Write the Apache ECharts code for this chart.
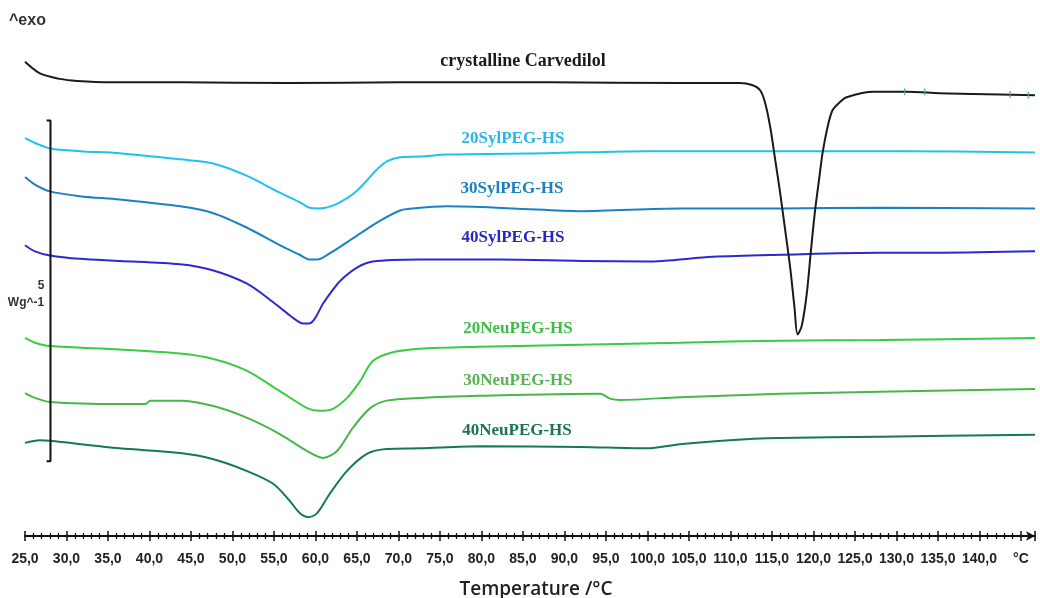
<!DOCTYPE html>
<html><head><meta charset="utf-8">
<script src="https://cdn.jsdelivr.net/npm/echarts@6/dist/echarts.min.js"></script>
<style>html,body{margin:0;padding:0;background:#fff}#c{width:1040px;height:598px}</style>
</head><body><div id="c"></div>
<script>
// Temperature (°C) vs heat flow (W/g, stacked offsets, exo up)
const carvedilol = [[25.0,6.93],[26.8,6.76],[29.2,6.68],[31.3,6.65],[35.2,6.63],[44.0,6.63],[56.9,6.62],[70.2,6.63],[88.3,6.63],[103.9,6.62],[111.1,6.62],[112.6,6.59],[113.6,6.51],[114.2,6.32],[114.8,5.97],[115.4,5.49],[116.0,5.00],[116.6,4.46],[117.2,3.91],[117.7,3.35],[118.1,2.93],[118.6,3.06],[119.2,3.53],[119.7,4.16],[120.2,4.75],[120.7,5.22],[121.1,5.59],[121.7,5.97],[122.3,6.22],[123.2,6.34],[124.0,6.41],[127.2,6.49],[131.3,6.49],[135.2,6.47],[139.2,6.46],[146.7,6.44]];
const syl20 = [[25.0,5.81],[26.2,5.74],[28.0,5.66],[31.6,5.62],[36.4,5.59],[43.7,5.50],[47.7,5.44],[51.7,5.26],[55.7,5.01],[58.1,4.87],[59.3,4.79],[60.5,4.78],[62.1,4.82],[63.8,4.93],[65.0,5.04],[66.2,5.19],[67.4,5.35],[68.6,5.47],[70.2,5.53],[72.6,5.54],[75.8,5.57],[87.9,5.59],[99.9,5.62],[111.1,5.62],[130.4,5.62],[146.7,5.60]];
const syl30 = [[25.0,5.24],[26.2,5.13],[28.0,5.03],[31.6,4.96],[36.4,4.91],[43.7,4.81],[47.7,4.71],[51.7,4.50],[55.7,4.24],[58.1,4.10],[59.3,4.03],[60.2,4.03],[61.7,4.12],[64.5,4.34],[67.8,4.60],[70.2,4.75],[71.7,4.78],[75.8,4.81],[83.8,4.78],[91.9,4.74],[103.9,4.78],[116.0,4.78],[128.0,4.79],[146.7,4.78]];
const syl40 = [[25.0,4.24],[26.2,4.15],[28.0,4.09],[31.6,4.04],[36.4,4.01],[43.7,3.96],[47.7,3.87],[51.7,3.68],[54.2,3.47],[56.6,3.24],[57.8,3.13],[58.5,3.09],[59.2,3.09],[59.9,3.16],[60.9,3.38],[62.0,3.57],[63.0,3.72],[65.0,3.91],[66.9,4.00],[72.6,4.03],[82.2,4.03],[91.9,4.01],[99.9,4.00],[107.9,4.07],[116.0,4.10],[128.0,4.13],[135.2,4.13],[146.7,4.15]];
const neu20 = [[25.0,2.88],[26.2,2.81],[28.0,2.76],[36.4,2.71],[43.7,2.65],[47.7,2.57],[51.7,2.40],[55.7,2.10],[59.0,1.85],[60.5,1.81],[62.1,1.84],[63.8,2.00],[65.4,2.25],[66.9,2.54],[69.0,2.66],[72.6,2.72],[79.8,2.75],[91.9,2.78],[103.9,2.81],[116.0,2.84],[128.0,2.85],[146.7,2.88]];
const neu30 = [[25.0,2.07],[26.2,2.00],[28.0,1.94],[36.4,1.91],[39.5,1.91],[40.1,1.96],[43.7,1.96],[47.7,1.88],[51.7,1.71],[55.7,1.47],[59.0,1.22],[60.9,1.12],[62.6,1.22],[64.5,1.56],[66.6,1.85],[68.6,1.96],[72.6,2.00],[79.8,2.03],[94.3,2.06],[95.5,1.99],[96.7,1.97],[103.9,2.01],[116.0,2.06],[128.0,2.09],[146.7,2.13]];
const neu40 = [[25.0,1.34],[26.8,1.38],[28.0,1.37],[36.4,1.26],[43.7,1.19],[47.7,1.10],[51.7,0.93],[54.9,0.74],[56.9,0.49],[58.1,0.31],[59.1,0.25],[60.2,0.31],[61.7,0.59],[63.8,0.93],[66.2,1.18],[68.6,1.25],[72.6,1.26],[79.8,1.29],[91.9,1.28],[99.9,1.26],[103.9,1.32],[109.9,1.38],[116.0,1.41],[128.0,1.43],[146.7,1.46]];
const analysisMarks = [[131.0,6.49],[133.4,6.49],[143.7,6.45],[145.9,6.44]];
const scaleBar = [[27.6,6.07],[28.07,6.07],[28.07,1.07],[27.6,1.07]];
const seriesNames = ['crystalline Carvedilol','20SylPEG-HS','30SylPEG-HS','40SylPEG-HS','20NeuPEG-HS','30NeuPEG-HS','40NeuPEG-HS'];
const xMin = 25, xMax = 146.7, xStep = 5;

const chart = echarts.init(document.getElementById('c'));
function tickLabel(v){
  if (Math.abs(v-145) < 1e-6) return '°C';
  if (Math.abs(v/5 - Math.round(v/5)) > 1e-6) return '';
  return v.toFixed(1).replace('.', ',');
}
function line(name, data, color, z){
  return {type:'line', name, data, symbol:'none', smooth:0.3, z:z||2,
    lineStyle:{color, width:2}, emphasis:{disabled:true}};
}
const txt = (x,y,text,color,size,family,weight,align) => ({type:'text', x, y, style:{text, fill:color,
  font: (weight||'bold')+' '+size+'px '+family, textAlign:align||'center', textVerticalAlign:'middle'}});
const serif = '"Liberation Serif","Times New Roman",serif';
const sans = '"Liberation Sans",Arial,sans-serif';
const axisCommon = {type:'value', min:xMin, max:xMax, interval:xStep, splitLine:{show:false}};
chart.setOption({
  animation:false,
  backgroundColor:'#fff',
  grid:{left:25, right:5, top:23, bottom:62, containLabel:false, outerBoundsMode:'none'},
  xAxis:[
    Object.assign({}, axisCommon, {
      position:'bottom',
      axisLine:{show:true, onZero:false, lineStyle:{color:'#111', width:2}, symbol:['none','arrow'], symbolSize:[7,9]},
      axisTick:{show:true, inside:false, length:5, lineStyle:{color:'#111', width:1.5}},
      minorTick:{show:true, splitNumber:5, length:3, lineStyle:{color:'#111', width:1.3}},
      axisLabel:{formatter:tickLabel, margin:16, color:'#222', fontSize:14, fontWeight:'bold', fontFamily:'"Liberation Sans",Arial,sans-serif', showMinLabel:true, showMaxLabel:false, hideOverlap:false},
      name:'Temperature /°C', nameLocation:'middle', nameGap:44,
      nameTextStyle:{fontSize:19, fontWeight:600, color:'#222', fontFamily:'"Open Sans",sans-serif', padding:[0,0,0,12]}
    }),
    Object.assign({}, axisCommon, {
      position:'bottom', gridIndex:0,
      axisLine:{show:false, onZero:false},
      axisTick:{show:true, inside:true, length:5, lineStyle:{color:'#111', width:1.5}},
      minorTick:{show:true, splitNumber:5, length:3, lineStyle:{color:'#111', width:1.3}},
      axisLabel:{show:false}
    })
  ],
  yAxis:{type:'value', min:-0.026, max:7.5, show:false, splitLine:{show:false}},
  series:[
    line(seriesNames[1], syl20, '#22c0ee'),
    line(seriesNames[2], syl30, '#1a82c4'),
    line(seriesNames[3], syl40, '#2a2ad4'),
    line(seriesNames[4], neu20, '#37cc41'),
    line(seriesNames[5], neu30, '#45b848'),
    line(seriesNames[6], neu40, '#167a50'),
    line(seriesNames[0], carvedilol, '#1a1a1a', 5),
    {type:'line', name:'scale', data:scaleBar, symbol:'none', smooth:false, lineStyle:{color:'#111', width:2}, z:6},
    {type:'scatter', name:'marks', data:analysisMarks, symbol:'rect', symbolSize:[1.5,7], itemStyle:{color:'#4aa3b0'}, z:7}
  ],
  graphic:[
    txt(9, 21, '^exo', '#333', 16, sans, 'bold', 'left'),
    txt(523, 61, seriesNames[0], '#1a1a1a', 18, serif),
    txt(513, 139, seriesNames[1], '#29b6e6', 17, serif),
    txt(512, 189, seriesNames[2], '#1b7fc0', 17, serif),
    txt(513, 238, seriesNames[3], '#2a27c0', 17, serif),
    txt(518, 329, seriesNames[4], '#3dbf44', 17, serif),
    txt(518, 381, seriesNames[5], '#57b356', 17, serif),
    txt(517, 431, seriesNames[6], '#1c7550', 17, serif),
    txt(41, 286, '5', '#333', 12, sans, 'bold'),
    txt(26, 303, 'Wg^-1', '#333', 12, sans, 'bold')
  ]
});
</script></body></html>
